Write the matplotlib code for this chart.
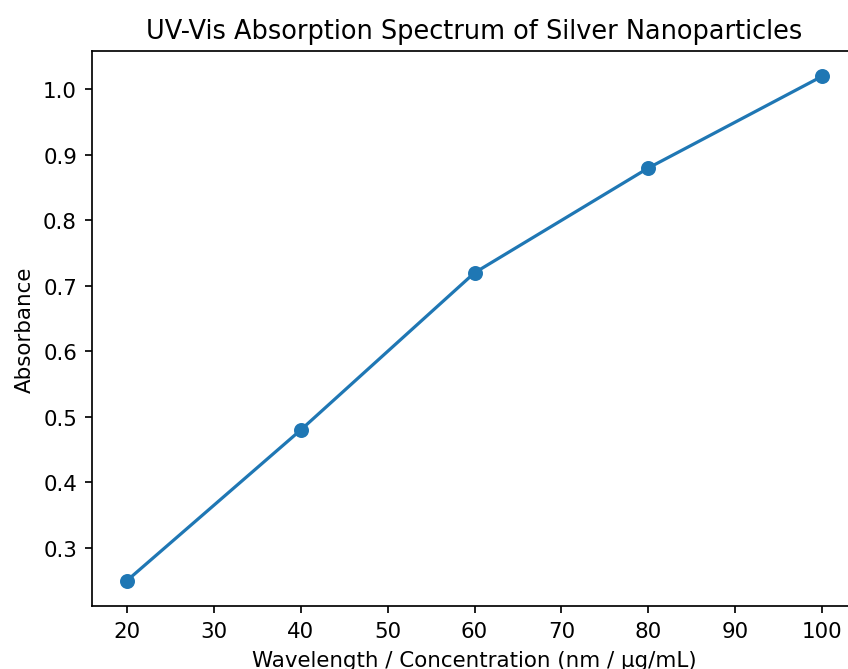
import matplotlib
matplotlib.use('Agg')
import matplotlib.pyplot as plt

concentration = [20, 40, 60, 80, 100]
absorbance = [0.25, 0.48, 0.72, 0.88, 1.02]

dpi = 154
fig = plt.figure(figsize=(848 / dpi, 670 / dpi), dpi=dpi)
# axes run slightly past the right edge, like the cropped original
ax = fig.add_axes([92 / 848, 1 - 607 / 670, (857 - 92) / 848, (607 - 52) / 670])

ax.plot(concentration, absorbance, marker='o')

ax.set_title('UV-Vis Absorption Spectrum of Silver Nanoparticles')
ax.set_xlabel('Wavelength / Concentration (nm / µg/mL)')
ax.set_ylabel('Absorbance')
# right spine falls outside the cropped picture
ax.spines['right'].set_visible(False)

fig.savefig('out.png', dpi=dpi)
